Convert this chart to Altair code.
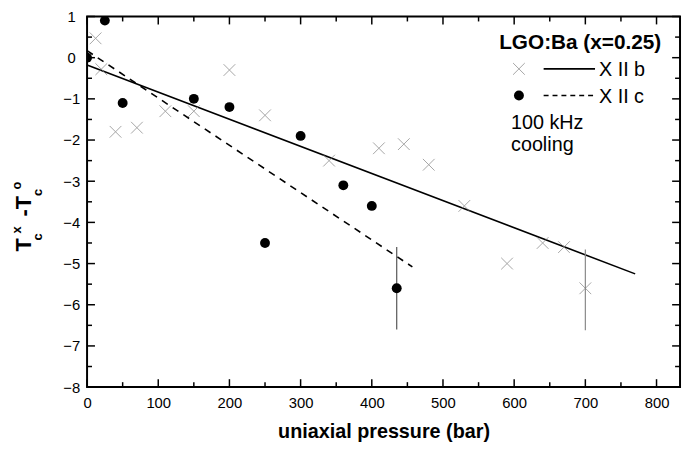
import altair as alt
import pandas as pd

FONT = "Liberation Sans, Arial, sans-serif"

# ---- data ----
# X || b  (grey crosses)
x_b = [12, 20, 40, 70, 110, 150, 200, 250, 340, 410, 445, 480, 530, 590, 640, 670, 700]
y_b = [0.47, -0.28, -1.8, -1.7, -1.3, -1.3, -0.3, -1.4, -2.5, -2.2, -2.1, -2.6, -3.6, -5.0, -4.5, -4.6, -5.6]
# X || c  (black dots)
x_c = [0, 25, 50, 150, 200, 250, 300, 360, 400, 435]
y_c = [0.0, 0.9, -1.1, -1.0, -1.2, -4.5, -1.9, -3.1, -3.6, -5.6]
# linear fits
fit_b_x = [0, 770]
fit_b_y = [-0.18, -5.25]
fit_c_x = [0, 457]
fit_c_y = [0.17, -5.08]
# error bars
err_b_x = [700]
err_b_lo = [-6.62]
err_b_hi = [-4.66]
err_c_x = [435]
err_c_lo = [-6.6]
err_c_hi = [-4.6]
# axis ticks
x_major = [0, 100, 200, 300, 400, 500, 600, 700, 800]
x_minor = [50, 150, 250, 350, 450, 550, 650, 750]
y_major = [-8, -7, -6, -5, -4, -3, -2, -1, 0, 1]
y_minor = [-7.5, -6.5, -5.5, -4.5, -3.5, -2.5, -1.5, -0.5, 0.5]

W, H = 600, 375
TOP = 6
DY = 14 - 9  # shift of plot origin vs. reference measurements

xs = alt.Scale(domain=[0, 833], nice=False, zero=False)
ys = alt.Scale(domain=[-8, 1], nice=False, zero=False)

x_enc = alt.X("x:Q", scale=xs,
              axis=alt.Axis(values=x_major, title="uniaxial pressure (bar)",
                            labelFontSize=15, labelPadding=9, labelFont=FONT,
                            titleFontSize=20, titleFontWeight="bold", titleFont=FONT,
                            titlePadding=11, labelFlush=False))
y_enc = alt.Y("y:Q", scale=ys,
              axis=alt.Axis(values=y_major, title=None, labelFontSize=15,
                            labelAlign="center", labelPadding=16, labelFont=FONT,
                            labelFlush=False))

df_b = pd.DataFrame({"x": x_b, "y": y_b})
df_c = pd.DataFrame({"x": x_c, "y": y_c})
df_fb = pd.DataFrame({"x": fit_b_x, "y": fit_b_y})
df_fc = pd.DataFrame({"x": fit_c_x, "y": fit_c_y})
df_eb = pd.DataFrame({"x": err_b_x, "y": err_b_lo, "y2": err_b_hi})
df_ec = pd.DataFrame({"x": err_c_x, "y": err_c_lo, "y2": err_c_hi})

CROSS = "M-1,-1L1,1M-1,1L1,-1"

layers = []

# inside ticks
def xticks(vals, length):
    d = pd.DataFrame({"x": vals})
    bot = alt.Chart(d).mark_rule(color="black", strokeWidth=1.5).encode(
        x=x_enc, y=alt.value(H), y2=alt.value(H - length))
    top = alt.Chart(d).mark_rule(color="black", strokeWidth=1.5).encode(
        x=x_enc, y=alt.value(0), y2=alt.value(length))
    return [bot, top]

def yticks(vals, length):
    d = pd.DataFrame({"y": vals})
    left = alt.Chart(d).mark_rule(color="black", strokeWidth=1.5).encode(
        y=y_enc, x=alt.value(0), x2=alt.value(length))
    right = alt.Chart(d).mark_rule(color="black", strokeWidth=1.5).encode(
        y=y_enc, x=alt.value(W), x2=alt.value(W - length))
    return [left, right]

layers += xticks(x_major, 8) + xticks(x_minor, 5) + yticks(y_major, 8) + yticks(y_minor, 5)

# fits
layers.append(alt.Chart(df_fb).mark_line(color="black", strokeWidth=1.6).encode(x=x_enc, y=y_enc))
layers.append(alt.Chart(df_fc).mark_line(color="black", strokeWidth=1.6, strokeDash=[7, 6]).encode(x=x_enc, y=y_enc))

# error bars
layers.append(alt.Chart(df_eb).mark_rule(color="#888888", strokeWidth=1.2).encode(
    x=x_enc, y=y_enc, y2=alt.Y2("y2:Q")))
layers.append(alt.Chart(df_ec).mark_rule(color="#555555", strokeWidth=1.2).encode(
    x=x_enc, y=y_enc, y2=alt.Y2("y2:Q")))

# points
layers.append(alt.Chart(df_b).mark_point(shape=CROSS, size=140, color="#808080",
                                         strokeWidth=1, filled=False, clip=True).encode(x=x_enc, y=y_enc))
layers.append(alt.Chart(df_c).mark_point(shape="circle", size=100, color="black",
                                         filled=True, opacity=1, clip=True).encode(x=x_enc, y=y_enc))

# legend (decoration)
one = pd.DataFrame({"k": [0]})
def txt(t, x, y, size=20, weight="normal", align="left", baseline="alphabetic", angle=0):
    return alt.Chart(one).mark_text(text=t, fontSize=size, fontWeight=weight, font=FONT,
                                    align=align, baseline=baseline, angle=angle,
                                    color="black").encode(x=alt.value(x), y=alt.value(y - DY))

layers.append(txt("LGO:Ba (x=0.25)", 417, 38, size=21, weight="bold"))
layers.append(alt.Chart(one).mark_point(shape=CROSS, size=140, color="#808080", strokeWidth=1,
                                        filled=False).encode(x=alt.value(437), y=alt.value(58 - DY)))
layers.append(alt.Chart(one).mark_rule(color="black", strokeWidth=1.6).encode(
    x=alt.value(462), x2=alt.value(514), y=alt.value(58 - DY)))
layers.append(txt("X II b", 518, 65))
layers.append(alt.Chart(one).mark_point(shape="circle", size=100, color="black", filled=True,
                                        opacity=1).encode(x=alt.value(437), y=alt.value(85 - DY)))
layers.append(alt.Chart(one).mark_rule(color="black", strokeWidth=1.6, strokeDash=[5, 4]).encode(
    x=alt.value(462), x2=alt.value(514), y=alt.value(85 - DY)))
layers.append(txt("X II c", 518, 93))
layers.append(txt("100 kHz", 429, 119))
layers.append(txt("cooling", 429, 141))

# y-axis title: T_c^x - T_c^o (rotated)
layers.append(txt("T", -64, 236, size=22, weight="bold", align="center", baseline="middle", angle=270))
layers.append(txt("x", -71, 221, size=13, weight="bold", align="center", baseline="middle", angle=270))
layers.append(txt("c", -50, 228, size=13, weight="bold", align="center", baseline="middle", angle=270))
layers.append(txt("-T", -64, 197, size=22, weight="bold", align="center", baseline="middle", angle=270))
layers.append(txt("c", -50, 183, size=13, weight="bold", align="center", baseline="middle", angle=270))
layers.append(txt("o", -71, 176, size=13, weight="bold", align="center", baseline="middle", angle=270))

chart = alt.layer(*layers).properties(
    width=W, height=H,
    padding={"left": 80, "top": TOP, "right": 2, "bottom": 58},
    autosize=alt.AutoSizeParams(type="none"),
    background="white",
).configure_view(stroke="black", strokeWidth=2).configure_axis(
    domain=False, ticks=False, grid=False, labelColor="black", titleColor="black"
)

chart.save("out.html", embed_options={"renderer": "svg", "actions": False})
